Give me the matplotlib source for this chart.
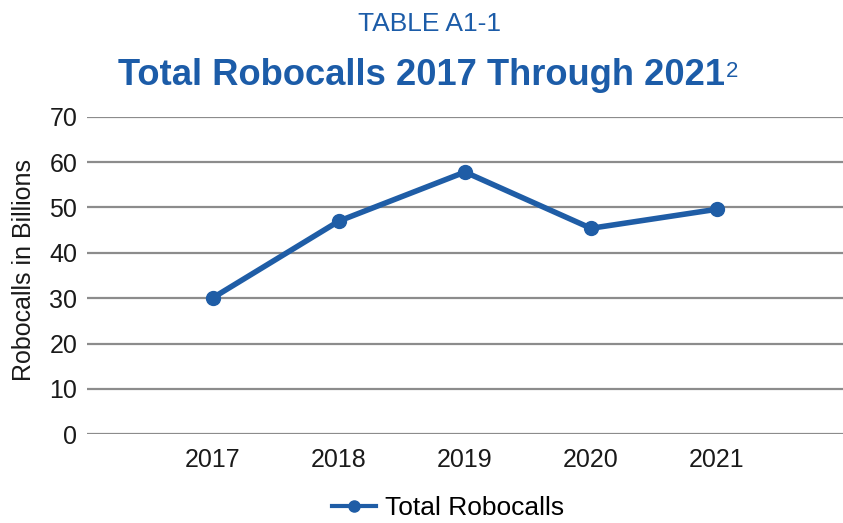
import matplotlib
matplotlib.use("Agg")
import matplotlib.pyplot as plt
from matplotlib.lines import Line2D

plt.rcParams['font.family'] = ['Liberation Sans', 'DejaVu Sans']

years = ["2017", "2018", "2019", "2020", "2021"]
robocalls = [30.1, 47.0, 57.8, 45.4, 49.6]
y_ticks = [0, 10, 20, 30, 40, 50, 60, 70]

blue = "#1c5ca8"
line_blue = "#1f5da6"

fig = plt.figure(figsize=(8.43, 5.23), dpi=100)
ax = fig.add_axes([0.1032, 0.1696, 0.8968, 0.6073])

x = list(range(1, len(years) + 1))
ax.plot(x, robocalls, color=line_blue, lw=4, marker='o', markersize=10,
        solid_joinstyle='round', zorder=3)

ax.set_xlim(0, len(years) + 1)
ax.set_ylim(0, 70)
ax.set_yticks(y_ticks)
ax.set_yticklabels([str(v) for v in y_ticks])
ax.set_xticks(x)
ax.set_xticklabels(years)
ax.tick_params(axis='both', length=0, labelsize=18, colors='#1a1a1a')
ax.tick_params(axis='y', pad=7)
ax.tick_params(axis='x', pad=10)
for s in ax.spines.values():
    s.set_visible(False)
ax.grid(axis='y', color='#8c8c8c', lw=1.6)
ax.set_axisbelow(True)

fig.text(0.0285, 0.4837, "Robocalls in Billions", rotation=90, fontsize=18,
         color='#1a1a1a', ha='center', va='center')

fig.text(0.509, 0.9407, "TABLE A1-1", fontsize=19, color=blue,
         ha='center', va='baseline')

title = fig.text(0.14, 0.8375, "Total Robocalls 2017 Through 2021",
                 fontsize=26.2, fontweight='bold', color=blue,
                 ha='left', va='baseline')
# footnote marker placed right after the title
fig.canvas.draw()
bb = title.get_window_extent().transformed(fig.transFigure.inverted())
fig.text(bb.x1 + 0.001, 0.853, "2", fontsize=16, color=blue,
         ha='left', va='baseline')

handle = Line2D([], [], color=line_blue, lw=3, marker='o', markersize=8)
fig.legend([handle], ["Total Robocalls"], loc='center',
           bbox_to_anchor=(0.5314, 0.029), frameon=False, fontsize=19,
           handlelength=1.67, handletextpad=0.35, borderpad=0)

fig.savefig("out.png", dpi=100, facecolor='white')
